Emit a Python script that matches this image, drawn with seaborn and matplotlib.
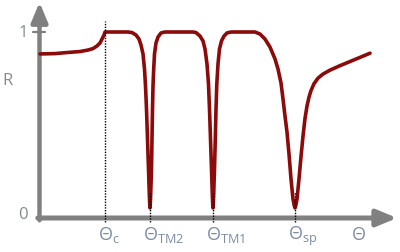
import matplotlib
matplotlib.use("Agg")
import matplotlib.pyplot as plt
import seaborn as sns
import pandas as pd

# Reflectivity R versus incidence angle Theta (arbitrary angle units)
theta = [0, 15, 28, 40, 48, 53, 57, 60, 62, 64, 65,
         88,
         92, 96, 99, 101, 103, 104.5, 105.5, 106.5, 107.5, 108.5, 109.3, 109.7, 110,
         110.3, 110.7, 111.5, 112, 112.5, 113, 113.7, 114.5, 116, 118, 121, 125,
         153,
         156, 160, 163, 165, 167, 168.5, 169.5, 170.5, 171.5, 172.3, 172.7, 173,
         173.3, 173.7, 174.5, 175.3, 176, 176.8, 178, 179.5, 181.5, 184, 187, 191,
         215,
         220, 225, 230, 235, 238, 241, 243, 245, 247, 249, 251, 253, 254.2, 255,
         255.8, 257, 259, 261, 263, 265, 267, 269, 271, 274, 278, 283, 290, 300, 313, 322, 330]
R = [0.882, 0.884, 0.890, 0.895, 0.903, 0.911, 0.925, 0.941, 0.962, 0.984, 1.0,
     1.0,
     0.997, 0.984, 0.962, 0.930, 0.882, 0.801, 0.710, 0.586, 0.425, 0.263, 0.129, 0.075, 0.054,
     0.075, 0.129, 0.263, 0.425, 0.586, 0.710, 0.801, 0.882, 0.941, 0.973, 0.995, 1.0,
     1.0,
     0.997, 0.978, 0.952, 0.909, 0.828, 0.720, 0.586, 0.425, 0.263, 0.129, 0.075, 0.054,
     0.075, 0.129, 0.263, 0.425, 0.586, 0.720, 0.828, 0.909, 0.952, 0.978, 0.995, 1.0,
     1.0,
     0.989, 0.962, 0.919, 0.855, 0.801, 0.726, 0.640, 0.548, 0.462, 0.344, 0.210, 0.102, 0.068, 0.054,
     0.068, 0.102, 0.210, 0.330, 0.440, 0.535, 0.602, 0.650, 0.685, 0.722, 0.752, 0.774, 0.795, 0.819, 0.848, 0.868, 0.886]

# special angles and their labels
mark_angles = [65, 110, 173, 255]
mark_labels = [r"$\mathrm{\Theta_{c}}$", r"$\mathrm{\Theta_{TM2}}$",
               r"$\mathrm{\Theta_{TM1}}$", r"$\mathrm{\Theta_{sp}}$"]
y_ticks = [0, 1]
y_tick_labels = ["0", "1"]

sns.set_theme(style="white")
plt.rcParams["font.family"] = ["Open Sans", "DejaVu Sans"]
plt.rcParams["mathtext.fontset"] = "custom"
plt.rcParams["mathtext.rm"] = "Open Sans"
plt.rcParams["mathtext.it"] = "Open Sans"
plt.rcParams["mathtext.bf"] = "Open Sans"

fig = plt.figure(figsize=(4.0, 2.53), dpi=100)
ax = fig.add_axes([0, 0, 1, 1])
ax.set_axis_off()
ax.set_xlim(-40, 360)
ax.set_ylim(-34 / 186, 219 / 186)

axis_col = "#808080"
lab_col = "#7d8ca3"
num_col = "#858a92"

# axes with arrow heads
arrow_style = "-|>,head_length=1.2,head_width=0.5"
ax.annotate("", xy=(-0.5, 1.16), xytext=(-0.5, -0.012),
            arrowprops=dict(arrowstyle=arrow_style, lw=3.2, color=axis_col,
                            shrinkA=0, shrinkB=0, mutation_scale=10), zorder=1)
ax.annotate("", xy=(357, 0), xytext=(-2.2, 0),
            arrowprops=dict(arrowstyle=arrow_style, lw=3.6, color=axis_col,
                            shrinkA=0, shrinkB=0, mutation_scale=10), zorder=1)
ax.plot([-7, 5], [1, 1], color=axis_col, lw=1.6, zorder=1)

df = pd.DataFrame({"theta": theta, "R": R})
sns.lineplot(data=df, x="theta", y="R", sort=False, estimator=None, ax=ax,
             color="#8b0a0a", lw=2.6, zorder=3,
             solid_capstyle="round", solid_joinstyle="round")

# dotted marker lines
for i, a in enumerate(mark_angles):
    top = 1.059 if i == 0 else 0.14
    ax.plot([a, a], [-0.022, top], color="black", lw=1.0, ls=(0, (1, 1)), zorder=4)
    ax.text(a - 7.2, -0.113, mark_labels[i], ha="left", va="baseline",
            fontsize=13, color=lab_col)

ax.text(319, -0.113, "Θ", ha="center", va="baseline", fontsize=13, color=lab_col)
ax.text(-32, 0.742, "R", ha="center", va="center", fontsize=12, color=num_col)
for v, t in zip(y_ticks, y_tick_labels):
    ax.text(-17, v + (0.024 if v == 0 else 0.0), t, ha="center", va="center",
            fontsize=12, color=num_col)

fig.savefig("out.png", dpi=100)
